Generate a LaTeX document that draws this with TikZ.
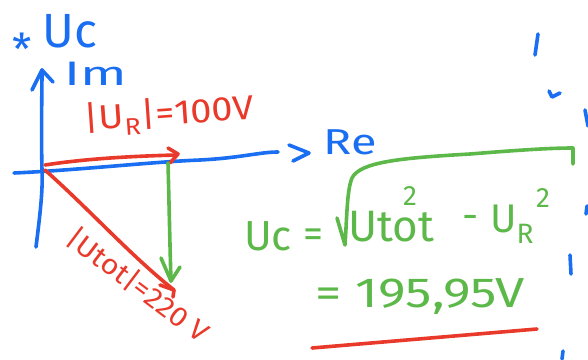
\documentclass[tikz,border=0pt]{standalone}
\usepackage{fontspec}
\setmainfont{Fira Sans}
\definecolor{pblue}{HTML}{1A6EF2}
\definecolor{pred}{HTML}{E8392A}
\definecolor{pgreen}{HTML}{5DB84A}
\newcommand{\hs}[2]{\scalebox{#1}[1]{#2}}
\begin{document}
\begin{tikzpicture}[x=1pt,y=-1pt,
  pen/.style={line width=3.6pt,line cap=round,line join=round},
  txt/.style={inner sep=0pt,font=\fontsize{#1}{#1}\selectfont}]
\useasboundingbox (0,0) rectangle (588,359);
% ---------- axes (blue) ----------
\coordinate (imbot) at (36,247);
\coordinate (O) at (42,170);
\coordinate (imtop) at (42,70);
\coordinate (reL) at (14,173);
\coordinate (reR) at (278,152);
\draw[pen,pblue] (imbot) .. controls (40,215) and (43,190) .. (O) .. controls (41,130) and (42,95) .. (imtop);
\draw[pen,pblue] (32,90) -- (imtop) -- (53,82);
\draw[pen,pblue] (reL) .. controls (80,170) and (150,162) .. (200,160) .. controls (240,158) and (260,152) .. (reR);
\draw[pen,pblue] (289,145) -- (309,153) -- (293,161);
\node[txt=36,text=pblue] (re) at (350,142) {\hs{1.3}{Re}};
\node[txt=34,text=pblue] (im) at (96,74) {\hs{1.6}{Im}};
\node[txt=44,text=pblue] (star) at (22,49) {*};
\node[txt=48,text=pblue] (uc) at (70,31) {Uc};
% ---------- U_R (red) ----------
\coordinate (urs) at (45,165);
\coordinate (ure) at (176,155);
\draw[pen,pred] (urs) .. controls (90,158) and (140,156) .. (ure);
\draw[pen,pred] (168,148) -- (178,154) -- (170,163);
\node[txt=34,text=pred,rotate=4] (urlab) at (169,115) {\hs{1.12}{|U\textsubscript{R}|=100V}};
% ---------- U_tot (red diagonal) ----------
\coordinate (uts) at (45,170);
\coordinate (ute) at (174,290);
\draw[pen,pred] (uts) .. controls (90,210) and (130,255) .. (ute);
\draw[pen,pred] (160,285) -- (ute) -- (173,297);
\node[txt=28,text=pred,rotate=-37] (utlab) at (138,285) {\hs{1.08}{|Utot|=220 V}};
% ---------- U_C (green vertical) ----------
\coordinate (ucs) at (168,163);
\coordinate (uce) at (171,281);
\draw[pen,pgreen] (ucs) .. controls (169,200) and (170,250) .. (uce);
\draw[pen,pgreen] (161,258) -- (uce) -- (180,267);
% ---------- formula (green) ----------
\node[txt=42,text=pgreen] (fuc) at (268,236) {Uc};
\node[txt=40,text=pgreen] (feq) at (313,238) {=};
\coordinate (sq1) at (337,218);
\coordinate (sq2) at (345,245);
\coordinate (sq3) at (573,148);
\coordinate (sq4) at (573,164);
\draw[pen,pgreen] (sq1) -- (sq2) .. controls (347,215) and (347,190) .. (352,178)
  .. controls (360,162) and (400,158) .. (470,154) .. controls (520,150) and (550,148) .. (sq3) -- (sq4);
\node[txt=44,text=pgreen] (futot) at (391,227) {Utot};
\node[txt=28,text=pgreen] (fsq1) at (410,196) {2};
\node[txt=40,text=pgreen] (fmin) at (471,222) {-};
\node[txt=40,text=pgreen] (fur) at (512,224) {U\textsubscript{R}};
\node[txt=28,text=pgreen] (fsq2) at (543,198) {2};
\node[txt=42,text=pgreen] (fres) at (420,297) {\hs{1.25}{= 195,95V}};
% ---------- red underline ----------
\coordinate (ul1) at (312,348);
\coordinate (ul2) at (537,329);
\draw[pen,pred] (ul1) -- (ul2);
% ---------- blue fragments at right edge ----------
\draw[pen,pblue] (538,34) -- (535,55);
\draw[pen,pblue] (549,91) -- (552,97) -- (560,93);
\draw[pen,pblue] (585,110) -- (588,126);
\draw[pen,pblue] (570,255) -- (571,274);
\draw[pen,pblue] (587,206) -- (586,214);
\draw[pen,pblue] (563,351) -- (562,359);
\end{tikzpicture}
\end{document}
